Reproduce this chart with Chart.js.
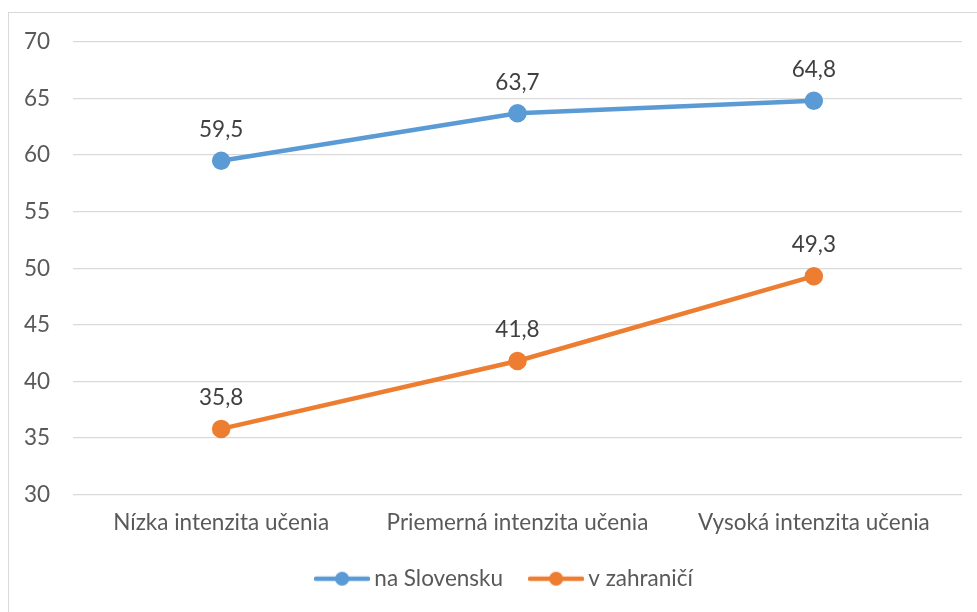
<!DOCTYPE html>
<html>
<head>
<meta charset="utf-8">
<script src="https://cdn.jsdelivr.net/npm/chart.js@4"></script>
<style>
  html, body { margin: 0; padding: 0; background: #fff; overflow: hidden; }
  #wrap { position: relative; width: 977px; height: 612px; overflow: hidden; }
  #frame { position: absolute; left: 8px; top: 12px; width: 1000px; height: 700px; border: 1px solid #d9d9d9; }
  #chart { position: absolute; left: 0; top: 0; }
</style>
</head>
<body>
<div id="wrap">
  <div id="frame"></div>
  <canvas id="chart" width="977" height="612"></canvas>
</div>
<script>
// data
const categories = ['Nízka intenzita učenia', 'Priemerná intenzita učenia', 'Vysoká intenzita učenia'];
const naSlovensku = [59.5, 63.7, 64.8];
const vZahranici = [35.8, 41.8, 49.3];
const yMin = 30, yMax = 70, yStep = 5;

const BLUE = '#5b9bd5';
const ORANGE = '#ed7d31';
const TEXT = '#595959';
const FONT = 'Lato';
const SIZE = 22.5;

// legend marker: line with a dot in the middle
function legendMarker(color) {
  const c = document.createElement('canvas');
  c.width = 56; c.height = 16;
  const g = c.getContext('2d');
  g.strokeStyle = color;
  g.lineWidth = 4.5;
  g.lineCap = 'round';
  g.beginPath();
  g.moveTo(2, 8); g.lineTo(54, 8);
  g.stroke();
  g.fillStyle = color;
  g.beginPath();
  g.arc(28, 8, 7, 0, Math.PI * 2);
  g.fill();
  return c;
}

// value labels above the points, decimal comma
const valueLabels = {
  id: 'valueLabels',
  afterDatasetsDraw(chart) {
    const ctx = chart.ctx;
    ctx.save();
    ctx.font = SIZE + 'px ' + FONT;
    ctx.fillStyle = '#404040';
    ctx.textAlign = 'center';
    ctx.textBaseline = 'middle';
    chart.data.datasets.forEach((ds, i) => {
      chart.getDatasetMeta(i).data.forEach((pt, j) => {
        ctx.fillText(String(ds.data[j]).replace('.', ','), pt.x, pt.y - 31);
      });
    });
    ctx.restore();
  }
};

// legend: a bit less height than chart.js wants, and moved right of the middle
const tweakLegend = {
  id: 'tweakLegend',
  beforeLayout(chart) {
    const lg = chart.legend;
    if (lg && !lg._tweaked) {
      const fit = lg.fit.bind(lg);
      lg.fit = function () { fit(); this.height -= 14; };
      lg._tweaked = true;
    }
  },
  afterLayout(chart) {
    const lg = chart.legend;
    lg.left += 26; lg.right += 26;
    lg.top -= 16; lg.bottom -= 16;
  }
};

new Chart(document.getElementById('chart'), {
  type: 'line',
  data: {
    labels: categories,
    datasets: [{
      label: 'na Slovensku',
      data: naSlovensku,
      borderColor: BLUE,
      backgroundColor: BLUE,
      borderWidth: 4.5,
      pointRadius: 7,
      pointHoverRadius: 7,
      tension: 0
    }, {
      label: 'v zahraničí',
      data: vZahranici,
      borderColor: ORANGE,
      backgroundColor: ORANGE,
      borderWidth: 4.5,
      pointRadius: 7,
      pointHoverRadius: 7,
      tension: 0
    }]
  },
  options: {
    responsive: false,
    devicePixelRatio: 1,
    animation: false,
    layout: { padding: { top: 42, right: 15, bottom: 10, left: 0 } },
    scales: {
      x: {
        offset: true,
        grid: { display: false, drawTicks: false },
        border: { display: false },
        ticks: { color: TEXT, font: { family: FONT, size: SIZE }, padding: 15, maxRotation: 0 }
      },
      y: {
        min: yMin,
        max: yMax,
        grid: { color: '#d9d9d9', lineWidth: 1.3, drawTicks: false },
        border: { display: false },
        ticks: { stepSize: yStep, color: TEXT, font: { family: FONT, size: SIZE }, padding: 23 },
        afterFit(scale) { scale.width = 73; }
      }
    },
    plugins: {
      legend: {
        position: 'bottom',
        labels: {
          color: TEXT,
          font: { family: FONT, size: SIZE },
          usePointStyle: true,
          pointStyleWidth: 42,
          padding: 32,
          generateLabels(chart) {
            return chart.data.datasets.map((ds, i) => ({
              text: ds.label,
              fillStyle: ds.borderColor,
              strokeStyle: ds.borderColor,
              fontColor: TEXT,
              pointStyle: legendMarker(ds.borderColor),
              lineWidth: 0,
              hidden: false,
              datasetIndex: i
            }));
          }
        }
      },
      tooltip: { enabled: false }
    }
  },
  plugins: [valueLabels, tweakLegend]
});
</script>
</body>
</html>
